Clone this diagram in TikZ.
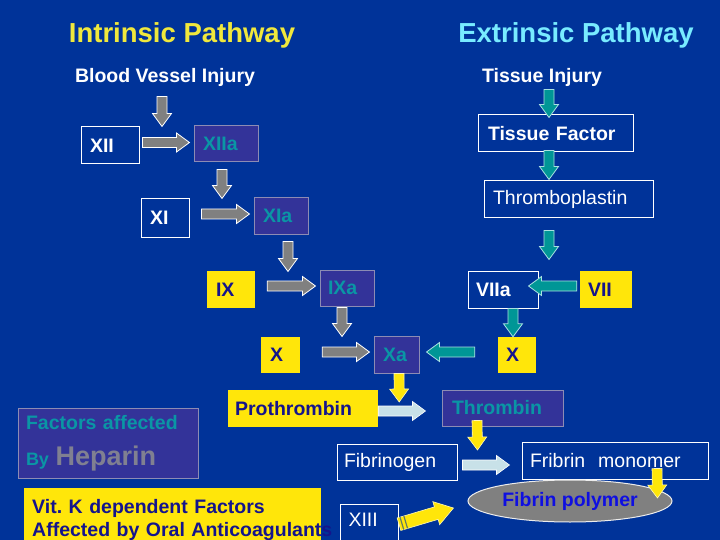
\documentclass[tikz,border=0pt]{standalone}
\usepackage{fontspec}
\setmainfont{Liberation Sans}
\usetikzlibrary{calc,shapes.geometric}
\frenchspacing
\definecolor{bg}{RGB}{0,51,153}
\definecolor{pfill}{RGB}{51,51,153}
\definecolor{pline}{RGB}{140,140,180}
\definecolor{tealtxt}{RGB}{10,150,165}
\definecolor{yel}{RGB}{255,230,10}
\definecolor{yeltitle}{RGB}{240,232,60}
\definecolor{cyantitle}{RGB}{120,235,255}
\definecolor{navy}{RGB}{20,20,140}
\definecolor{arrgray}{RGB}{128,128,128}
\definecolor{arrteal}{RGB}{0,150,150}
\definecolor{tealline}{RGB}{170,225,225}
\definecolor{lightc}{RGB}{200,225,232}
\definecolor{hepgray}{RGB}{128,128,145}
\definecolor{polyfill}{RGB}{128,128,128}
\definecolor{polytext}{RGB}{15,15,225}
\def\sw{5pt}\def\hw{9.5pt}\def\hl{13pt}
\newcommand\barr[3]{%
  \coordinate (bA) at (#2);
  \coordinate (bB) at (#3);
  \coordinate (bH) at ($(bB)!\hl!(bA)$);
  \draw[#1] ($(bA)!\sw!90:(bB)$) -- ($(bH)!\sw!-90:(bA)$) -- ($(bH)!\hw!-90:(bA)$) -- (bB)
    -- ($(bH)!\hw!90:(bA)$) -- ($(bH)!\sw!90:(bA)$) -- ($(bA)!\sw!-90:(bB)$) -- cycle;}
\tikzset{
  base/.style={inner xsep=8pt, inner ysep=0pt, align=left, anchor=center},
  wbox/.style={base, draw=white, line width=1pt, text=white},
  pbox/.style={base, fill=pfill, draw=pline, line width=1pt, text=tealtxt},
  ybox/.style={base, fill=yel, text=navy},
  fr/.style={font=\fontsize{19.5}{23}\selectfont},
  fb/.style={font=\fontsize{19.5}{23}\selectfont\bfseries},
  grayarr/.style={fill=arrgray, draw=white, line width=0.8pt},
  tealarr/.style={fill=arrteal, draw=tealline, line width=0.8pt},
  yelarr/.style={fill=yel, draw=white!70!yel, line width=0.6pt},
  lightarr/.style={fill=lightc, draw=white, line width=0.6pt},
  stripe/.style={draw=bg!60!yel, line width=1.2pt}
}
\begin{document}
\begin{tikzpicture}[x=1pt,y=-1pt]
\useasboundingbox[fill=bg] (0,0) rectangle (720,540);
% titles
\node[text=yeltitle, font=\fontsize{27.5}{30}\selectfont\bfseries, inner sep=0] (intr) at (182,35) {Intrinsic Pathway};
\node[text=cyantitle, font=\fontsize{27.5}{30}\selectfont\bfseries, inner sep=0] (extr) at (576,35) {Extrinsic Pathway};
\node[text=white, fb, inner sep=0] (bvi) at (165,77) {Blood Vessel Injury};
\node[text=white, fb, inner sep=0] (ti) at (542,77) {Tissue Injury};
% intrinsic
\node[wbox, fb, inner xsep=9pt, text width=40pt, minimum height=37pt] (XII) at (110,145.5) {XII};
\node[pbox, fb, inner xsep=9pt, text width=46pt, minimum height=36pt] (XIIa) at (226,144) {XIIa};
\node[wbox, fb, inner xsep=9pt, text width=30pt, minimum height=38pt] (XI) at (165,218) {XI};
\node[pbox, fb, inner xsep=9pt, text width=36pt, minimum height=36pt] (XIa) at (281,216) {XIa};
\node[ybox, fb, inner xsep=9pt, text width=30pt, minimum height=37pt] (IX) at (231,289.5) {IX};
\node[pbox, fb, inner xsep=8pt, text width=38pt, minimum height=36pt] (IXa) at (347,288) {IXa};
\node[ybox, fb, inner xsep=9pt, text width=21pt, minimum height=36pt] (X) at (280.5,355) {X};
\node[pbox, fb, inner xsep=9pt, text width=27pt, minimum height=37pt] (Xa) at (396.5,354.5) {Xa};
% extrinsic
\node[wbox, fb, inner xsep=10pt, text width=135pt, minimum height=37pt] (TF) at (555.5,133.5) {Tissue Factor};
\node[wbox, fr, inner xsep=9pt, text width=151pt, minimum height=37pt] (TP) at (568.5,199.5) {Thromboplastin};
\node[wbox, fb, inner xsep=8pt, text width=54pt, minimum height=37pt] (VIIa) at (503,289.5) {VIIa};
\node[ybox, fb, inner xsep=8pt, text width=36pt, minimum height=37pt] (VII) at (606,289.5) {VII};
\node[ybox, fb, inner xsep=8pt, text width=22pt, minimum height=36pt] (Xr) at (517,355) {X};
% common
\node[pbox, fb, inner xsep=8pt, text width=164pt, minimum height=70pt] (fa) at (108,443)
  {Factors affected\\[13.5pt]{\fontsize{18}{20}\selectfont By} {\fontsize{27}{30}\selectfont\color{hepgray}Heparin}};
\node[ybox, fb, inner xsep=7pt, text width=136pt, minimum height=37pt] (Pro) at (303,408.5) {Prothrombin};
\node[pbox, fb, inner xsep=10pt, text width=101pt, minimum height=36pt] (Thr) at (502.5,408) {Thrombin};
\node[wbox, fr, inner xsep=7pt, text width=106pt, minimum height=36pt] (Fg) at (397,462) {Fibrinogen};
\node[wbox, fr, inner xsep=8pt, text width=170pt, minimum height=37pt] (fm) at (615,460.5) {Fribrin\ \ monomer};
\node[ellipse, fill=polyfill, draw=white!85!gray, line width=1pt, inner sep=0, minimum width=204pt, minimum height=42pt, text=polytext, fb] (fp) at (570,501) {Fibrin polymer};
\node[wbox, fr, anchor=north west, inner xsep=8pt, inner ysep=9pt, text width=42pt, text depth=12pt] (XIII) at (340,504) {XIII};
\node[ybox, fb, anchor=north west, inner xsep=8pt, inner ysep=11pt, text width=281pt] (vk) at (24,488)
  {\mbox{Vit. K dependent Factors}\\\mbox{Affected by Oral Anticoagulants}};
% gray arrows
\barr{grayarr}{$(XII.north)+(52,-30)$}{$(XII.north)+(52,0)$}
\barr{grayarr}{$(XII.east)+(3,-3)$}{$(XIIa.west)+(-4,-1.5)$}
\barr{grayarr}{$(XIIa.south)+(-4,7)$}{$(XIa.north)+(-59,1)$}
\barr{grayarr}{$(XI.east)+(12,-4)$}{$(XIa.west)+(-4,-2)$}
\barr{grayarr}{$(XIa.south)+(7,7)$}{$(IXa.north)+(-59,2)$}
\barr{grayarr}{$(IX.east)+(12,-3.5)$}{$(IXa.west)+(-4,-2)$}
\barr{grayarr}{$(IXa.south)+(-5,1)$}{$(Xa.north)+(-54.5,1)$}
\barr{grayarr}{$(X.east)+(22,-3)$}{$(Xa.west)+(-4,-2.5)$}
% teal arrows
\barr{tealarr}{$(TF.north)+(-6.5,-25)$}{$(TF.north)+(-6.5,3)$}
\barr{tealarr}{$(TF.south)+(-6.5,-2)$}{$(TP.north)+(-19.5,-1)$}
\barr{tealarr}{$(TP.south)+(-19.5,12)$}{$(VIIa.north)+(46,-11)$}
\barr{tealarr}{$(VII.west)+(-3,-3.5)$}{$(VIIa.east)+(-10,-3.5)$}
\barr{tealarr}{$(VIIa.south)+(10,0)$}{$(Xr.north)+(-4,0)$}
\barr{tealarr}{$(Xr.west)+(-23,-3)$}{$(Xa.east)+(7,-2.5)$}
% yellow and light arrows
\barr{yelarr}{$(Xa.south)+(2.5,0)$}{$(Pro.east)+(21,-6.5)$}
\barr{lightarr}{$(Pro.east)+(0,2.5)$}{$(Thr.west)+(-16,3)$}
\barr{yelarr}{$(Thr.south)+(-25.5,-6)$}{$(Fg.east)+(20,-12)$}
\barr{lightarr}{$(Fg.east)+(5,3)$}{$(fm.west)+(-12,4.5)$}
\barr{yelarr}{$(fm.south)+(42,-11)$}{$(fp.east)+(-15,-3)$}
{\def\sw{6.5pt}\def\hw{12pt}\def\hl{18pt}
\barr{yelarr}{$(XIII.east)+(0,-2)$}{$(fp.west)+(-14,7)$}
\coordinate (s1) at ($(bA)!3pt!(bB)$);
\coordinate (s2) at ($(bA)!7pt!(bB)$);
\draw[stripe] ($(s1)!\sw!90:(bB)$) -- ($(s1)!\sw!-90:(bB)$);
\draw[stripe] ($(s2)!\sw!90:(bB)$) -- ($(s2)!\sw!-90:(bB)$);}
\end{tikzpicture}
\end{document}
